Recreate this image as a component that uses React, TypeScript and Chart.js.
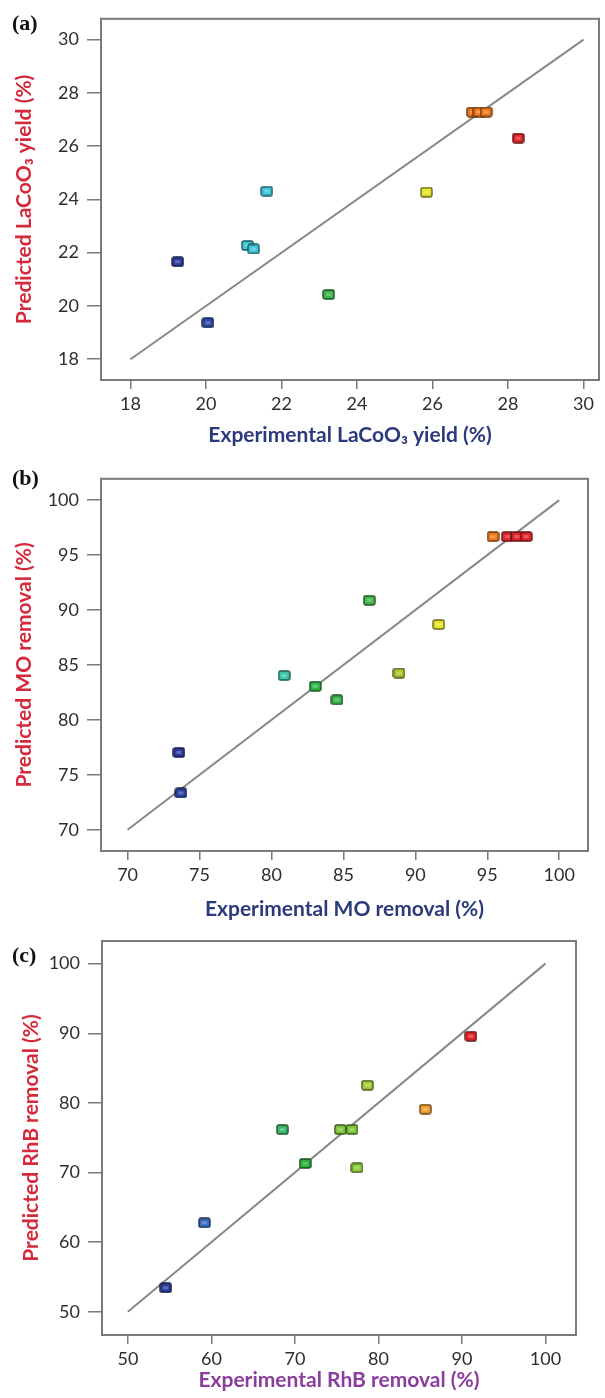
import React, { useEffect, useRef } from 'react';
import { Chart, registerables } from 'chart.js';

Chart.register(...registerables);

// ---------- Panel (a): LaCoO3 yield ----------
const aExperimental = [19.25, 20.05, 21.61, 21.1, 21.26, 23.25, 25.84, 27.06, 27.23, 27.42, 28.27];
const aPredicted = [21.66, 19.37, 24.31, 22.27, 22.14, 20.43, 24.27, 27.28, 27.28, 27.28, 26.3];
const aTicks = [18, 20, 22, 24, 26, 28, 30];
const aFitLine = [18, 30];

// ---------- Panel (b): MO removal ----------
const bExperimental = [73.56, 73.7, 80.88, 83.05, 84.55, 86.8, 88.86, 91.62, 95.4, 96.4, 97.05, 97.7];
const bPredicted = [77.03, 73.35, 84.03, 83.06, 81.82, 90.88, 84.26, 88.68, 96.68, 96.68, 96.68, 96.68];
const bTicks = [70, 75, 80, 85, 90, 95, 100];
const bFitLine = [70, 100];

// ---------- Panel (c): RhB removal ----------
const cExperimental = [54.53, 59.16, 68.5, 71.23, 75.44, 76.83, 77.43, 78.68, 85.62, 91.07];
const cPredicted = [53.44, 62.78, 76.17, 71.29, 76.17, 76.17, 70.67, 82.54, 79.09, 89.57];
const cTicks = [50, 60, 70, 80, 90, 100];
const cFitLine = [50, 100];

// marker colours (style only)
const aColors = ['#2b3c9c', '#2e4aa8', '#3ec6d8', '#3ec6d8', '#3ec6d8', '#40b64a', '#e6e62c', '#f07a1e', '#f07a1e', '#f07a1e', '#e0262a'];
const bColors = ['#2b3c9c', '#2e44a4', '#3cc8a8', '#2fb84a', '#3ab54a', '#44b84a', '#a8c832', '#e8e62a', '#f07a1e', '#e0262a', '#e0262a', '#e0262a'];
const cColors = ['#2b3c9c', '#3a6ac0', '#3cb86a', '#2fb040', '#7cc83a', '#7cc83a', '#8ccc3a', '#a8cc3a', '#f0a030', '#e0262a'];

const FONT = 'Lato, "Open Sans", sans-serif';

function darker(hex: string, f: number) {
  const n = parseInt(hex.slice(1), 16);
  const r = Math.round(((n >> 16) & 255) * f);
  const g = Math.round(((n >> 8) & 255) * f);
  const b = Math.round((n & 255) * f);
  return `rgb(${r},${g},${b})`;
}

function makeMarker(fill: string) {
  const c = document.createElement('canvas');
  c.width = 13;
  c.height = 11;
  const g = c.getContext('2d')!;
  const x = 1, y = 1, w = 11, h = 9, r = 2;
  g.beginPath();
  g.moveTo(x + r, y);
  g.lineTo(x + w - r, y);
  g.quadraticCurveTo(x + w, y, x + w, y + r);
  g.lineTo(x + w, y + h - r);
  g.quadraticCurveTo(x + w, y + h, x + w - r, y + h);
  g.lineTo(x + r, y + h);
  g.quadraticCurveTo(x, y + h, x, y + h - r);
  g.lineTo(x, y + r);
  g.quadraticCurveTo(x, y, x + r, y);
  g.closePath();
  g.fillStyle = fill;
  g.fill();
  g.lineWidth = 1.4;
  g.strokeStyle = darker(fill, 0.45);
  g.stroke();
  g.fillStyle = 'rgba(255,255,255,0.25)';
  g.fillRect(4, 4, 5, 3);
  return c;
}

const framePlugin = {
  id: 'frame',
  beforeDatasetsDraw(chart: any) {
    const { ctx, chartArea: a } = chart;
    ctx.save();
    ctx.strokeStyle = '#7a7a7a';
    ctx.lineWidth = 2;
    ctx.strokeRect(a.left, a.top, a.right - a.left, a.bottom - a.top);
    ctx.restore();
  },
};

type PanelProps = {
  top: number;
  height: number;
  label: string;
  labelTop: number;
  xs: number[];
  ys: number[];
  colors: string[];
  ticks: number[];
  fit: number[];
  xMin: number; xMax: number; yMin: number; yMax: number;
  yAxisWidth: number; xAxisHeight: number;
  padTop: number; padRight: number;
  xTitle: string; yTitle: string; xTitleColor: string;
  xTitlePad: number; yTitlePad: number;
};

function Panel(p: PanelProps) {
  const ref = useRef<HTMLCanvasElement>(null);
  useEffect(() => {
    const points = p.xs.map((x, i) => ({ x, y: p.ys[i] }));
    const fitPts = p.fit.map((v) => ({ x: v, y: v }));
    const markers = p.colors.map((c) => makeMarker(c));
    const tickFont = { family: FONT, size: 18 };
    const titleFont = { family: FONT, size: 21, weight: 'bold' as const };
    const chart = new Chart(ref.current!, {
      type: 'scatter',
      data: {
        datasets: [
          {
            data: points,
            pointStyle: markers as any,
            pointRadius: 5,
            pointHoverRadius: 5,
            backgroundColor: p.colors,
          },
          {
            type: 'line',
            data: fitPts,
            borderColor: '#888888',
            borderWidth: 2,
            pointRadius: 0,
            showLine: true,
            fill: false,
          } as any,
        ],
      },
      options: {
        animation: false,
        responsive: false,
        events: [],
        layout: { padding: { top: p.padTop, right: p.padRight, left: 0, bottom: 0 } },
        plugins: { legend: { display: false }, tooltip: { enabled: false } },
        scales: {
          x: {
            type: 'linear',
            min: p.xMin,
            max: p.xMax,
            afterBuildTicks: (ax: any) => { ax.ticks = p.ticks.map((v) => ({ value: v })); },
            afterFit: (ax: any) => { ax.height = p.xAxisHeight; },
            ticks: { autoSkip: false, maxRotation: 0, padding: 4, color: '#2e2e2e', font: tickFont },
            grid: { drawOnChartArea: false, drawTicks: true, tickLength: 9, color: '#7a7a7a', lineWidth: 1.5 },
            border: { display: false },
            title: { display: true, text: p.xTitle, color: p.xTitleColor, font: titleFont, padding: { top: 0, bottom: p.xTitlePad } },
          },
          y: {
            type: 'linear',
            min: p.yMin,
            max: p.yMax,
            afterBuildTicks: (ax: any) => { ax.ticks = p.ticks.map((v) => ({ value: v })); },
            afterFit: (ax: any) => { ax.width = p.yAxisWidth; },
            ticks: { autoSkip: false, padding: 8, color: '#2e2e2e', font: tickFont },
            grid: { drawOnChartArea: false, drawTicks: true, tickLength: 14, color: '#7a7a7a', lineWidth: 1.5 },
            border: { display: false },
            title: { display: true, text: p.yTitle, color: '#d42a3c', font: titleFont, padding: { top: p.yTitlePad, bottom: 0 } },
          },
        },
      },
      plugins: [framePlugin],
    });
    return () => chart.destroy();
  }, []);
  return (
    <div style={{ position: 'absolute', left: 0, top: p.top, width: 605, height: p.height }}>
      <canvas ref={ref} width={605} height={p.height} style={{ display: 'block' }} />
      <div
        style={{
          position: 'absolute',
          left: 12,
          top: p.labelTop,
          font: 'bold 22px "Liberation Serif", "Times New Roman", serif',
          lineHeight: '22px',
          color: '#111',
        }}
      >
        {p.label}
      </div>
    </div>
  );
}

export default function App() {
  return (
    <div style={{ position: 'absolute', left: 0, top: 0, width: 605, height: 1398, background: '#fff', overflow: 'hidden' }}>
      <Panel
        top={0} height={460} label="(a)" labelTop={12}
        xs={aExperimental} ys={aPredicted} colors={aColors} ticks={aTicks} fit={aFitLine}
        xMin={17.22} xMax={30.41} yMin={17.22} yMax={30.78}
        yAxisWidth={101} xAxisHeight={80} padTop={14} padRight={4}
        xTitle="Experimental LaCoO₃ yield (%)" yTitle="Predicted LaCoO₃ yield (%)" xTitleColor="#2b3a7c"
        xTitlePad={12} yTitlePad={12}
      />
      <Panel
        top={460} height={460} label="(b)" labelTop={7}
        xs={bExperimental} ys={bPredicted} colors={bColors} ticks={bTicks} fit={bFitLine}
        xMin={68.15} xMax={102.0} yMin={68.06} yMax={101.94}
        yAxisWidth={101} xAxisHeight={69} padTop={7} padRight={17}
        xTitle="Experimental MO removal (%)" yTitle="Predicted MO removal (%)" xTitleColor="#2b3a7c"
        xTitlePad={-2} yTitlePad={12}
      />
      <Panel
        top={920} height={478} label="(c)" labelTop={24}
        xs={cExperimental} ys={cPredicted} colors={cColors} ticks={cTicks} fit={cFitLine}
        xMin={46.9} xMax={103.66} yMin={46.66} yMax={103.25}
        yAxisWidth={102} xAxisHeight={63} padTop={21} padRight={29}
        xTitle="Experimental RhB removal (%)" yTitle="Predicted RhB removal (%)" xTitleColor="#8b3d9e"
        xTitlePad={5} yTitlePad={19}
      />
    </div>
  );
}
